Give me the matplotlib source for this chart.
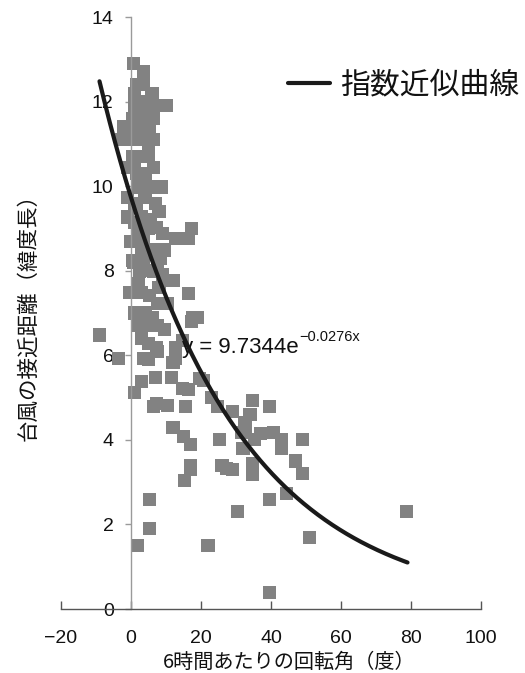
import matplotlib
matplotlib.use("Agg")
import matplotlib.pyplot as plt
import numpy as np

# ---- data ----
x_vals = [
    0.6, 3.7, 1.7, 3.5, 6.0, 1.0, 1.1, 4.9, 10.0, 7.0,
    4.0, 0.5, 6.5, -2.0, 2.0, 5.4, -2.6, 3.4, 6.3, 0.5,
    0.3, 4.9, 2.5, -1.1, 6.5, 4.0, 1.5, 8.6, 2.0, 5.5,
    -0.9, 4.0, 6.9, 1.5, -0.9, 3.0, 4.0, 1.0, 7.4, 17.4,
    9.1, 12.6, 16.3, 3.1, 9.7, 6.0, 0.3, 0.6, 7.7, 3.5,
    6.3, 2.5, 12.0, -0.3, 3.0, 16.3, 5.4, 10.3, 7.5, 1.1,
    4.0, 17.7, 19.1, 17.4, 4.9, 2.0, 7.5, 9.7, -8.9, 14.6,
    4.9, 12.6, 7.4, 7.7, -3.7, 12.6, 3.5, 12.0, 6.9, 11.7,
    19.7, 20.6, 2.9, 14.6, 1.1, 23.1, 34.6, 7.4, 10.3, 15.7,
    39.7, 24.6, 28.9, 34.0, 32.3, 12.0, 32.6, 31.7, 40.6, 36.9,
    14.9, 25.4, 43.1, 48.9, 35.4, 16.9, 32.0, 43.1, 46.9, 34.6,
    16.9, 26.0, 27.4, 29.1, 48.9, 34.6, 15.4, 44.3, 5.4, 39.5,
    30.4, 78.6, 5.2, 51.1, 1.8, 22.0, 39.5, 6.3, 16.3, 2.0,
    5.0, 8.0, 3.0, 6.0, 9.0, 4.9, 2.0, 5.0, 8.5, 1.0,
    3.0, 6.0, 2.5, 5.5, 8.0, 17.1, 2.5, 3.0, 1.0, 5.0,
    2.0, 0.0, 3.5,
]
y_vals = [
    12.9, 12.7, 12.4, 12.4, 12.2, 12.2, 11.9, 11.9, 11.9, 11.9,
    11.6, 11.6, 11.6, 11.4, 11.4, 11.4, 11.1, 11.1, 11.1, 11.1,
    10.7, 10.7, 10.7, 10.45, 10.45, 10.3, 10.3, 9.98, 9.98, 9.98,
    9.74, 9.74, 9.6, 9.6, 9.27, 9.27, 9.13, 9.13, 9.03, 9.0,
    8.89, 8.77, 8.77, 8.49, 8.49, 8.49, 8.25, 8.2, 8.2, 8.2,
    7.97, 7.97, 7.78, 7.49, 7.49, 7.47, 7.42, 7.23, 7.23, 7.0,
    7.0, 6.9, 6.9, 6.8, 6.7, 6.7, 6.7, 6.6, 6.48, 6.36,
    6.29, 6.19, 6.19, 6.08, 5.93, 5.93, 5.93, 5.84, 5.48, 5.48,
    5.46, 5.41, 5.39, 5.22, 5.13, 5.0, 4.94, 4.87, 4.82, 4.8,
    4.8, 4.78, 4.68, 4.59, 4.42, 4.3, 4.3, 4.18, 4.18, 4.16,
    4.07, 4.0, 4.0, 4.0, 4.0, 3.88, 3.8, 3.8, 3.5, 3.45,
    3.4, 3.4, 3.33, 3.29, 3.2, 3.17, 3.05, 2.74, 2.6, 2.6,
    2.3, 2.3, 1.9, 1.7, 1.5, 1.5, 0.4, 4.8, 5.2, 7.7,
    8.0, 7.6, 6.4, 6.9, 7.9, 5.9, 10.0, 10.9, 8.3, 9.5,
    10.0, 10.0, 12.0, 9.2, 9.4, 3.29, 11.8, 10.0, 10.5, 9.0,
    9.0, 8.7, 8.8,
]
fit_a = 9.7344
fit_k = -0.0276
fit_x_range = [-9, 79]
x_ticks = [-20, 0, 20, 40, 60, 80, 100]
y_ticks = [0, 2, 4, 6, 8, 10, 12, 14]
x_label = "6時間あたりの回転角（度）"
y_label = "台風の接近距離（緯度長）"
legend_label = "指数近似曲線"
equation_main = "y = 9.7344e"
equation_sup = "−0.0276x"

LAT = ["Liberation Sans", "Noto Sans CJK JP", "DejaVu Sans"]
CJK = ["Noto Sans CJK JP", "DejaVu Sans"]
plt.rcParams["font.family"] = LAT

W, H = 525, 673
fig = plt.figure(figsize=(W / 100, H / 100), dpi=100)
ax = fig.add_axes([61 / W, (H - 609) / H, 420 / W, 592 / H])

ax.scatter(x_vals, y_vals, marker="s", s=88, color="#828282",
           edgecolors="none", zorder=2)

xf = np.linspace(fit_x_range[0], fit_x_range[1], 300)
yf = fit_a * np.exp(fit_k * xf)
line, = ax.plot(xf, yf, color="#1a1a1a", lw=3.0, zorder=4,
                solid_capstyle="round", label=legend_label)

ax.set_xlim(-20, 100)
ax.set_ylim(0, 14)
ax.set_xticks(x_ticks)
ax.set_yticks(y_ticks)
ax.set_xticklabels([str(v).replace("-", "−") for v in x_ticks])

for s in ("top", "right"):
    ax.spines[s].set_visible(False)
ax.spines["left"].set_position(("data", 0))
ax.spines["left"].set_color("#9a9a9a")
ax.spines["left"].set_linewidth(1.0)
ax.spines["bottom"].set_color("#555555")
ax.spines["bottom"].set_linewidth(1.0)

ax.tick_params(axis="x", direction="in", length=6, width=1.0,
               color="#555555", labelsize=14, pad=15, labelcolor="#111111")
ax.tick_params(axis="y", direction="out", length=4, width=1.0,
               color="#9a9a9a", labelsize=14, pad=8.5, labelcolor="#111111")

# equation
t = ax.text((182 - 131) / 3.5, (609 - 347) / 42.3, equation_main,
            fontsize=16, va="center", ha="left", color="#111111", zorder=3)
ax.annotate(equation_sup, xy=(1.0, 0.5), xycoords=t, xytext=(0.5, 7.5),
            textcoords="offset points", fontsize=10.5, va="center",
            ha="left", color="#111111", zorder=3)

# legend
leg = ax.legend(handles=[line], loc="center left",
                bbox_to_anchor=(288 / W, 1 - 85 / H),
                bbox_transform=fig.transFigure, frameon=False,
                prop={"family": CJK, "size": 21.5}, handlelength=1.4,
                handletextpad=0.33, borderpad=0, borderaxespad=0)
for txt in leg.get_texts():
    txt.set_color("#111111")

# axis titles
fig.text(289 / W, 1 - 662 / H, x_label, ha="center", va="center",
         fontsize=14.5, family=CJK, color="#111111")
fig.text(28 / W, 1 - 312 / H, y_label, ha="center", va="center",
         rotation=90, fontsize=15.5, family=CJK, color="#111111")

fig.savefig("out.png", dpi=100)
